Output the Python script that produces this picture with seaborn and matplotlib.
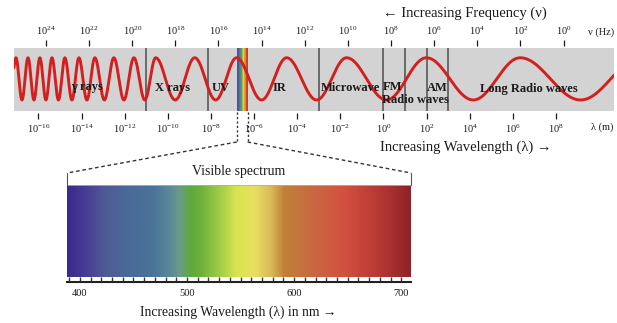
import numpy as np
import pandas as pd
import matplotlib
matplotlib.use("Agg")
import matplotlib.pyplot as plt
import seaborn as sns
from matplotlib.colors import LinearSegmentedColormap, ListedColormap, Normalize
from matplotlib.ticker import FuncFormatter, MultipleLocator

# ---------------------------------------------------------------- data
# wavelength axis (log10 of metres)
wavelength_ticks = [-16, -14, -12, -10, -8, -6, -4, -2, 0, 2, 4, 6, 8]
# frequency axis (log10 of Hz)
frequency_ticks = [24, 22, 20, 18, 16, 14, 12, 10, 8, 6, 4, 2, 0]
log_c = 8.35                      # log10(lambda) + log10(nu)
band_range = (-17.13, 10.69)      # log10(lambda) span of the strip

# band boundaries, log10(lambda)
boundaries = [-11.0, -8.15, -3.0, 0.0, 1.0, 2.0, 3.0]
# visible slice, log10(lambda)
visible_band = (-6.8, -6.3)
visible_stripes = ["#4b4fa3", "#4a78b0", "#58a848", "#e8d040", "#e08830", "#d03828"]

# band names: label, log10(lambda) centre, vertical position
region_labels = ["\u03b3 rays", "X rays", "UV", "IR", "Microwave", "FM",
                 "Radio waves", "AM", "Long Radio waves"]
region_x = [-13.75, -9.77, -7.55, -4.81, -1.53, 0.42, 1.48, 2.5, 6.76]
region_y = [-0.24, -0.26, -0.26, -0.26, -0.26, -0.24, -0.65, -0.26, -0.29]

# crest positions of the illustrative wave, log10(lambda)
wave_crests = [-17.6, -17.04, -16.48, -15.93, -15.37, -14.77, -14.12, -13.38,
               -12.50, -11.57, -10.56, -8.75, -6.81, -4.49, -1.71, 1.99,
               6.34, 11.94]

# visible spectrum colour stops (nm, colour)
spectrum_nm = [388, 407, 422, 444, 468, 484, 493, 503, 512, 528, 546, 563,
               579, 591, 616, 647, 678, 709]
spectrum_hex = ["#3a2a8c", "#4a3f95", "#4f5a95", "#4a6a98", "#4a7398",
                "#5a8a98", "#6a9c88", "#60a840", "#6ab03a", "#98c848",
                "#d8e450", "#e8e060", "#d8b858", "#c08038", "#c86a40",
                "#d45040", "#b83a35", "#902228"]
spectrum_ticks = [400, 500, 600, 700]

# ---------------------------------------------------------------- style
sns.set_theme(style="white")
plt.rcParams["font.family"] = ["Liberation Serif", "DejaVu Serif"]
plt.rcParams["mathtext.fontset"] = "custom"
plt.rcParams["mathtext.rm"] = "Liberation Serif"
plt.rcParams["mathtext.it"] = "Liberation Serif:italic"
plt.rcParams["mathtext.bf"] = "Liberation Serif:bold"
INK = "#1a1a1a"

W, H = 617, 323
fig = plt.figure(figsize=(W / 100, H / 100), dpi=100)
fig.patch.set_facecolor("white")


def box(x0, y0, x1, y1):
    return [x0 / W, 1 - y1 / H, (x1 - x0) / W, (y1 - y0) / H]


pow10 = FuncFormatter(lambda v, p: r"$\mathregular{10^{%d}}$" % int(round(v)))

# ---------------------------------------------------------------- strip
ax = fig.add_axes(box(14, 48, 614, 111))
ax.set_facecolor("#d3d3d3")
for s in ax.spines.values():
    s.set_visible(False)

ax.imshow(np.arange(len(visible_stripes))[None, :],
          extent=(visible_band[0], visible_band[1], -1, 1),
          cmap=ListedColormap(visible_stripes), aspect="auto", zorder=1)
for b in boundaries:
    ax.axvline(b, color="#4d4d4d", lw=1.1, zorder=2)

L = np.linspace(band_range[0], band_range[1], 4000)
phase = np.interp(L, wave_crests, np.arange(len(wave_crests)))
wave = pd.DataFrame({"loglam": L, "amp": 0.02 + 0.67 * np.cos(2 * np.pi * phase)})
sns.lineplot(data=wave, x="loglam", y="amp", ax=ax, color="#d41f1f",
             linewidth=2.1, sort=False, estimator=None, zorder=3)

for lab, x, y in zip(region_labels, region_x, region_y):
    ax.text(x, y, lab, ha="center", va="center", fontsize=9,
            fontweight="bold", color=INK, zorder=4)

ax.set_xlim(*band_range)
ax.set_ylim(-1, 1)
ax.set_yticks([])
ax.set_xlabel("")
ax.set_ylabel("")
ax.set_xticks(wavelength_ticks)
ax.xaxis.set_major_formatter(pow10)
ax.spines["bottom"].set_position(("outward", 1.5))
ax.tick_params(axis="x", bottom=True, direction="out", length=4.2, width=0.9,
               pad=2.5, labelsize=7.5, colors=INK)

sec = ax.secondary_xaxis(1 + 2 / 63, functions=(lambda x: log_c - x,
                                               lambda f: log_c - f))
sec.set_xticks(frequency_ticks)
sec.xaxis.set_major_formatter(pow10)
sec.spines["top"].set_visible(False)
sec.tick_params(axis="x", direction="out", length=4.2, width=0.9, pad=2,
                labelsize=7.5, colors=INK)

# ---------------------------------------------------------------- visible spectrum
lo_nm, hi_nm = spectrum_nm[0], spectrum_nm[-1]
pos = [(v - lo_nm) / (hi_nm - lo_nm) for v in spectrum_nm]
spec_cmap = LinearSegmentedColormap.from_list("visible", list(zip(pos, spectrum_hex)))

axs = fig.add_axes(box(67, 185, 411, 277))
grad = np.linspace(lo_nm, hi_nm, 800)[None, :]
axs.imshow(grad, extent=(lo_nm, hi_nm, 0, 1), aspect="auto", cmap=spec_cmap,
           norm=Normalize(lo_nm, hi_nm))
axs.set_xlim(lo_nm, hi_nm)
axs.set_ylim(0, 1)
axs.set_yticks([])
for side in ("left", "right"):
    axs.spines[side].set_visible(False)
axs.spines["top"].set_color("#b0b0b0")
axs.spines["top"].set_linewidth(0.6)
axs.spines["bottom"].set_color("#222222")
axs.spines["bottom"].set_linewidth(1.5)
axs.spines["bottom"].set_position(("outward", 3.8))
axs.set_xticks(spectrum_ticks)
axs.xaxis.set_minor_locator(MultipleLocator(10))
axs.tick_params(axis="x", which="both", bottom=True, direction="in",
                length=3.8, width=1.0, color="#333333")
axs.tick_params(axis="x", which="major", pad=5, labelsize=7.5, labelcolor=INK)

# ---------------------------------------------------------------- overlay
ov = fig.add_axes([0, 0, 1, 1], facecolor="none")
ov.set_xlim(0, W)
ov.set_ylim(H, 0)
ov.axis("off")


def to_px(axes, x, y):
    dx, dy = axes.transData.transform((x, y))
    return dx, H - dy


x_lo, y_band = to_px(ax, visible_band[0], -1)
x_hi, _ = to_px(ax, visible_band[1], -1)
x_sl, y_sp = to_px(axs, lo_nm, 1)
x_sr, _ = to_px(axs, hi_nm, 1)
knee, shoulder = 142, 173
for xb, xs in ((x_lo, x_sl), (x_hi, x_sr)):
    ov.plot([xb, xb], [y_band + 1, knee], color="#333333", lw=1.0,
            ls=(0, (1.6, 1.6)))
    ov.plot([xb, xs], [knee, shoulder], color="#333333", lw=1.0,
            ls=(0, (2.6, 2.0)))
    ov.plot([xs, xs], [shoulder, y_sp], color="#555555", lw=0.8)

ov.text(465, 13, "\u2190 Increasing Frequency (\u03bd)", ha="center",
        va="center", fontsize=10.5, color=INK)
ov.text(601, 32, "\u03bd (Hz)", ha="center", va="center", fontsize=7.5, color=INK)
ov.text(602, 127, "\u03bb (m)", ha="center", va="center", fontsize=7.5, color=INK)
ov.text(466, 147, "Increasing Wavelength (\u03bb) \u2192", ha="center",
        va="center", fontsize=10.5, color=INK)
ov.text(239, 172, "Visible spectrum", ha="center", va="center",
        fontsize=10, color=INK)
ov.text(238, 312, "Increasing Wavelength (\u03bb) in nm \u2192", ha="center",
        va="center", fontsize=9.8, color=INK)

fig.savefig("out.png", dpi=100, facecolor="white")
